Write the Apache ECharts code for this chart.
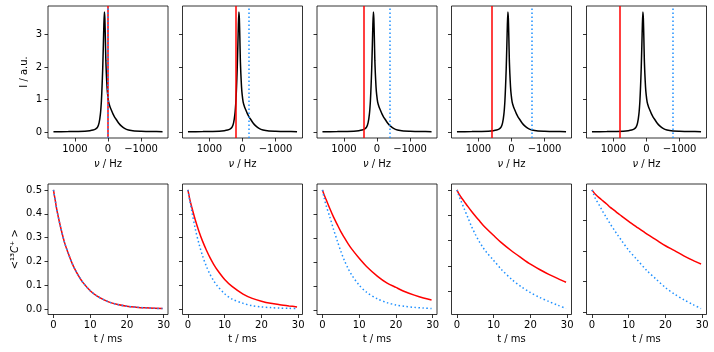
<!DOCTYPE html>
<html>
<head>
<meta charset="utf-8">
<script src="https://cdn.jsdelivr.net/npm/echarts@6/dist/echarts.min.js"></script>
<style>
  html, body { margin: 0; padding: 0; background: #fff; }
  #chart { width: 714px; height: 352px; }
</style>
</head>
<body>
<div id="chart"></div>
<script>
// spectrum (Hz, a.u.) - same lineshape in every top panel
const specFreq = [1650, 1200, 900, 700, 550, 450, 380, 320, 270, 230, 200, 180, 160, 140, 125, 110, 95, 80, 65, 50, 30, 10,
  -20, -60, -100, -150, -200, -260, -320, -400, -500, -620, -800, -1000, -1300, -1650];
const specInt = [0.01, 0.012, 0.018, 0.025, 0.04, 0.06, 0.09, 0.14, 0.28, 0.55, 0.95, 1.4, 1.95, 2.7, 3.3, 3.7, 3.5, 2.9, 2.2, 1.8, 1.4, 1.15,
  0.92, 0.78, 0.68, 0.56, 0.46, 0.37, 0.28, 0.19, 0.11, 0.06, 0.03, 0.022, 0.014, 0.01];

// carrier offsets (Hz): red line at +offset, blue dotted at -offset
const offsets = [0, 200, 400, 600, 800];

// decay curves
const tMs = [0, 0.5, 1, 2, 3, 4, 5, 6, 7, 8, 10, 12, 15, 17.5, 20, 22.5, 25, 27.5, 29.7];
const redDecay = [
  [0.5, 0.455, 0.41, 0.34, 0.28, 0.235, 0.195, 0.162, 0.135, 0.112, 0.077, 0.053, 0.030, 0.019, 0.012, 0.008, 0.005, 0.003, 0.002],
  [0.5, 0.46, 0.43, 0.374, 0.326, 0.284, 0.248, 0.216, 0.188, 0.164, 0.124, 0.095, 0.063, 0.045, 0.033, 0.024, 0.018, 0.013, 0.009],
  [0.5, 0.478, 0.46, 0.423, 0.388, 0.357, 0.327, 0.301, 0.276, 0.254, 0.216, 0.182, 0.141, 0.114, 0.095, 0.077, 0.063, 0.051, 0.043],
  [0.5, 0.485, 0.474, 0.454, 0.434, 0.415, 0.397, 0.38, 0.363, 0.348, 0.32, 0.293, 0.258, 0.232, 0.207, 0.186, 0.167, 0.15, 0.136],
  [0.5, 0.492, 0.485, 0.474, 0.464, 0.454, 0.443, 0.434, 0.424, 0.415, 0.397, 0.38, 0.355, 0.336, 0.317, 0.301, 0.284, 0.269, 0.257]
];
const blueDecay = [
  [0.5, 0.455, 0.41, 0.34, 0.28, 0.235, 0.195, 0.162, 0.135, 0.112, 0.077, 0.053, 0.030, 0.019, 0.012, 0.008, 0.005, 0.003, 0.002],
  [0.5, 0.455, 0.415, 0.336, 0.274, 0.222, 0.18, 0.146, 0.119, 0.097, 0.064, 0.042, 0.024, 0.014, 0.009, 0.006, 0.004, 0.003, 0.002],
  [0.5, 0.465, 0.435, 0.388, 0.337, 0.29, 0.245, 0.206, 0.173, 0.146, 0.104, 0.075, 0.047, 0.032, 0.022, 0.016, 0.012, 0.009, 0.007],
  [0.5, 0.478, 0.46, 0.425, 0.39, 0.355, 0.325, 0.298, 0.275, 0.255, 0.222, 0.188, 0.146, 0.118, 0.095, 0.076, 0.06, 0.045, 0.032],
  [0.5, 0.485, 0.47, 0.45, 0.428, 0.408, 0.388, 0.37, 0.352, 0.335, 0.302, 0.275, 0.235, 0.207, 0.18, 0.158, 0.14, 0.124, 0.111]
];

const freqTicks = [1000, 0, -1000];
const intTicks = [0, 1, 2, 3];
const timeTicks = [0, 10, 20, 30];
const decayTicks = [0, 0.1, 0.2, 0.3, 0.4, 0.5];

const FONT = 'DejaVu Sans';
const lefts = [48, 182.5, 317, 451.5, 586.5];
const W = 120;

// matplotlib-like 5% padding around the data
function padded(lo, hi) {
  const m = (hi - lo) * 0.05;
  return [lo - m, hi + m];
}
const minus = v => (v < 0 ? '\u2212' + Math.abs(v) : String(v));

const grids = [], xAxes = [], yAxes = [], series = [];

function tick(values) {
  return { show: true, inside: false, length: 3.5, customValues: values, lineStyle: { color: '#000', width: 0.8 } };
}

function baseAxis(extra) {
  return Object.assign({
    axisLine: { show: false, onZero: false },
    splitLine: { show: false },
    nameTextStyle: { color: '#000', fontFamily: FONT, fontSize: 10, rich: { i: { fontStyle: 'italic', fontFamily: FONT, fontSize: 10, color: '#000' } } }
  }, extra);
}

const fRange = padded(Math.min(...specFreq), Math.max(...specFreq));
const iRange = padded(0, Math.max(...specInt));
const tRange = padded(0, Math.max(...tMs));

for (let i = 0; i < 5; i++) {
  // top: spectra
  const g = grids.length;
  grids.push({ left: lefts[i], top: 6, width: W, height: 132, show: true, borderColor: '#000', borderWidth: 0.8, backgroundColor: 'transparent' });
  xAxes.push(baseAxis({
    type: 'value', gridIndex: g, inverse: true, min: fRange[0], max: fRange[1],
    axisTick: tick(freqTicks),
    axisLabel: { color: '#000', fontFamily: FONT, fontSize: 10, margin: 6, customValues: freqTicks, formatter: minus },
    name: '{i|ν} / Hz', nameLocation: 'middle', nameGap: 21
  }));
  yAxes.push(baseAxis({
    type: 'value', gridIndex: g, min: iRange[0], max: iRange[1],
    axisTick: tick(intTicks),
    axisLabel: { show: i === 0, color: '#000', fontFamily: FONT, fontSize: 10, margin: 6, customValues: intTicks },
    name: i === 0 ? 'I / a.u.' : '', nameLocation: 'middle', nameGap: 19
  }));
  series.push({
    type: 'line', xAxisIndex: g, yAxisIndex: g, showSymbol: false, smooth: 0.2,
    data: specFreq.map((f, k) => [f, specInt[k]]),
    lineStyle: { color: '#000', width: 1.5 },
    markLine: {
      silent: true, symbol: 'none', label: { show: false },
      data: [
        { xAxis: offsets[i], lineStyle: { color: '#ff0000', width: 1.5, type: 'solid' } },
        { xAxis: -offsets[i], lineStyle: { color: '#1e90ff', width: 1.5, type: [1.5, 2.5] } }
      ]
    }
  });

  // bottom: decays
  const h = grids.length;
  const lo = Math.min(...redDecay[i], ...blueDecay[i]);
  const yr = padded(lo, 0.5);
  grids.push({ left: lefts[i], top: 184, width: W, height: 130.5, show: true, borderColor: '#000', borderWidth: 0.8, backgroundColor: 'transparent' });
  xAxes.push(baseAxis({
    type: 'value', gridIndex: h, min: tRange[0], max: tRange[1],
    axisTick: tick(timeTicks),
    axisLabel: { color: '#000', fontFamily: FONT, fontSize: 10, margin: 6, customValues: timeTicks },
    name: 't / ms', nameLocation: 'middle', nameGap: 20
  }));
  const yt = decayTicks.filter(v => v >= yr[0] && v <= yr[1]);
  yAxes.push(baseAxis({
    type: 'value', gridIndex: h, min: yr[0], max: yr[1],
    axisTick: tick(yt),
    axisLabel: { show: i === 0, color: '#000', fontFamily: FONT, fontSize: 10, margin: 6, customValues: yt, formatter: v => v.toFixed(1) },
    name: i === 0 ? '<¹³{i|C}⁺ >' : '', nameLocation: 'middle', nameGap: 28
  }));
  series.push({
    type: 'line', xAxisIndex: h, yAxisIndex: h, showSymbol: false, smooth: 0.3,
    data: tMs.map((t, k) => [t, redDecay[i][k]]),
    lineStyle: { color: '#ff0000', width: 1.5 }
  });
  series.push({
    type: 'line', xAxisIndex: h, yAxisIndex: h, showSymbol: false, smooth: 0.3,
    data: tMs.map((t, k) => [t, blueDecay[i][k]]),
    lineStyle: { color: '#1e90ff', width: 1.5, type: [1.5, 2.5] }
  });
}

const chart = echarts.init(document.getElementById('chart'), null, { renderer: 'canvas' });
chart.setOption({
  animation: false,
  backgroundColor: '#fff',
  textStyle: { fontFamily: FONT },
  grid: grids,
  xAxis: xAxes,
  yAxis: yAxes,
  series: series
});
</script>
</body>
</html>
